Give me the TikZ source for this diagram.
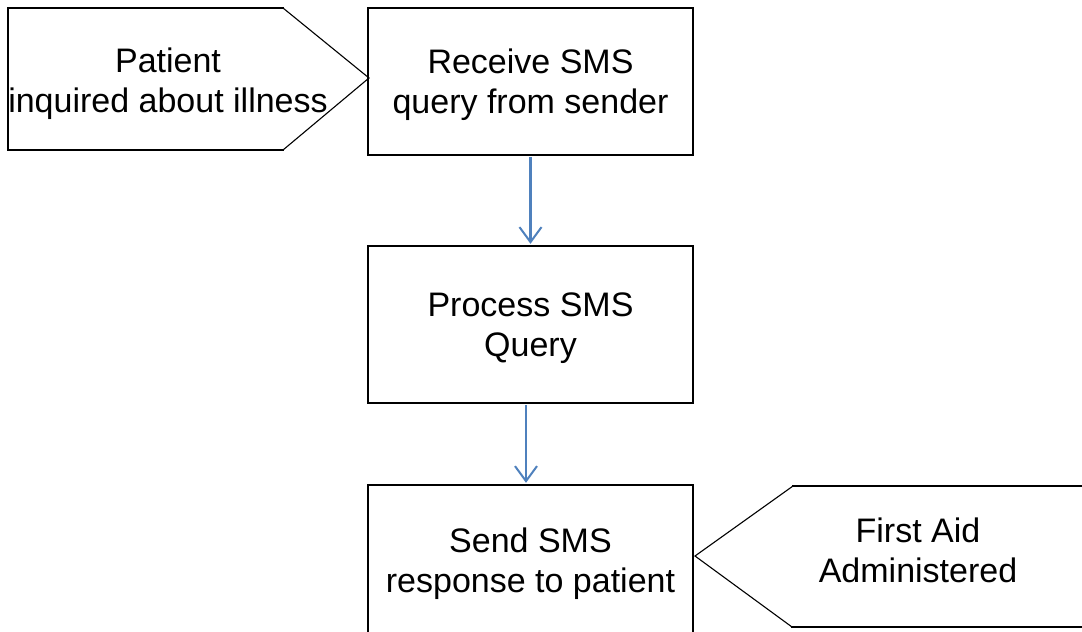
\documentclass[tikz,border=0pt]{standalone}
\usepackage{fontspec}
\setmainfont{Liberation Sans}
\usetikzlibrary{arrows.meta}
\definecolor{arrowblue}{HTML}{4F81BD}
\tikzset{
  box/.style={draw=black, line width=2.4pt, minimum width=325pt, align=center, inner sep=0pt,
    font=\fontsize{34}{40}\selectfont},
  label/.style={align=center, inner sep=0pt, font=\fontsize{34}{40}\selectfont},
  edge/.style={line width=2.4pt, line cap=rect},
  slant/.style={line width=1.1pt},
  flow/.style={draw=arrowblue, line width=2.2pt, -{Straight Barb[length=15pt,width=22pt,line width=2pt]}}
}
\begin{document}
\begin{tikzpicture}[x=1pt,y=-1pt]
\useasboundingbox (0,0) rectangle (1082,632);
\fill[white] (0,0) rectangle (1082,632);
% left pentagon
\draw[edge] (283,8) -- (8,8) -- (8,150) -- (283,150);
\draw[slant] (283,8) -- (369,78) -- (283,150);
\node[label, text depth=0pt] (patient) at (168,80) {Patient\\inquired about illness};
% right pentagon
\draw[edge] (793,486) -- (1090,486);
\draw[edge] (792,627) -- (1090,627);
\draw[slant] (793,486) -- (695,556) -- (792,627);
\node[label] (firstaid) at (918,550) {First Aid\\Administered};
% boxes
\node[box, text depth=0pt, minimum height=147pt] (receive) at (530.5,81.5) {Receive SMS\\query from sender};
\node[box, text depth=0pt, minimum height=157pt] (process) at (530.5,324.5) {Process SMS\\Query};
\node[box, text depth=0pt, minimum height=150pt] (send) at (530.5,560) {Send SMS\\response to patient};
% connectors
\draw[flow] ([yshift=-1pt]receive.south) -- ([yshift=1pt]process.north);
\draw[flow] ([xshift=-4.5pt,yshift=-1pt]process.south) -- ([xshift=-4.5pt,yshift=1pt]send.north);
\end{tikzpicture}
\end{document}
